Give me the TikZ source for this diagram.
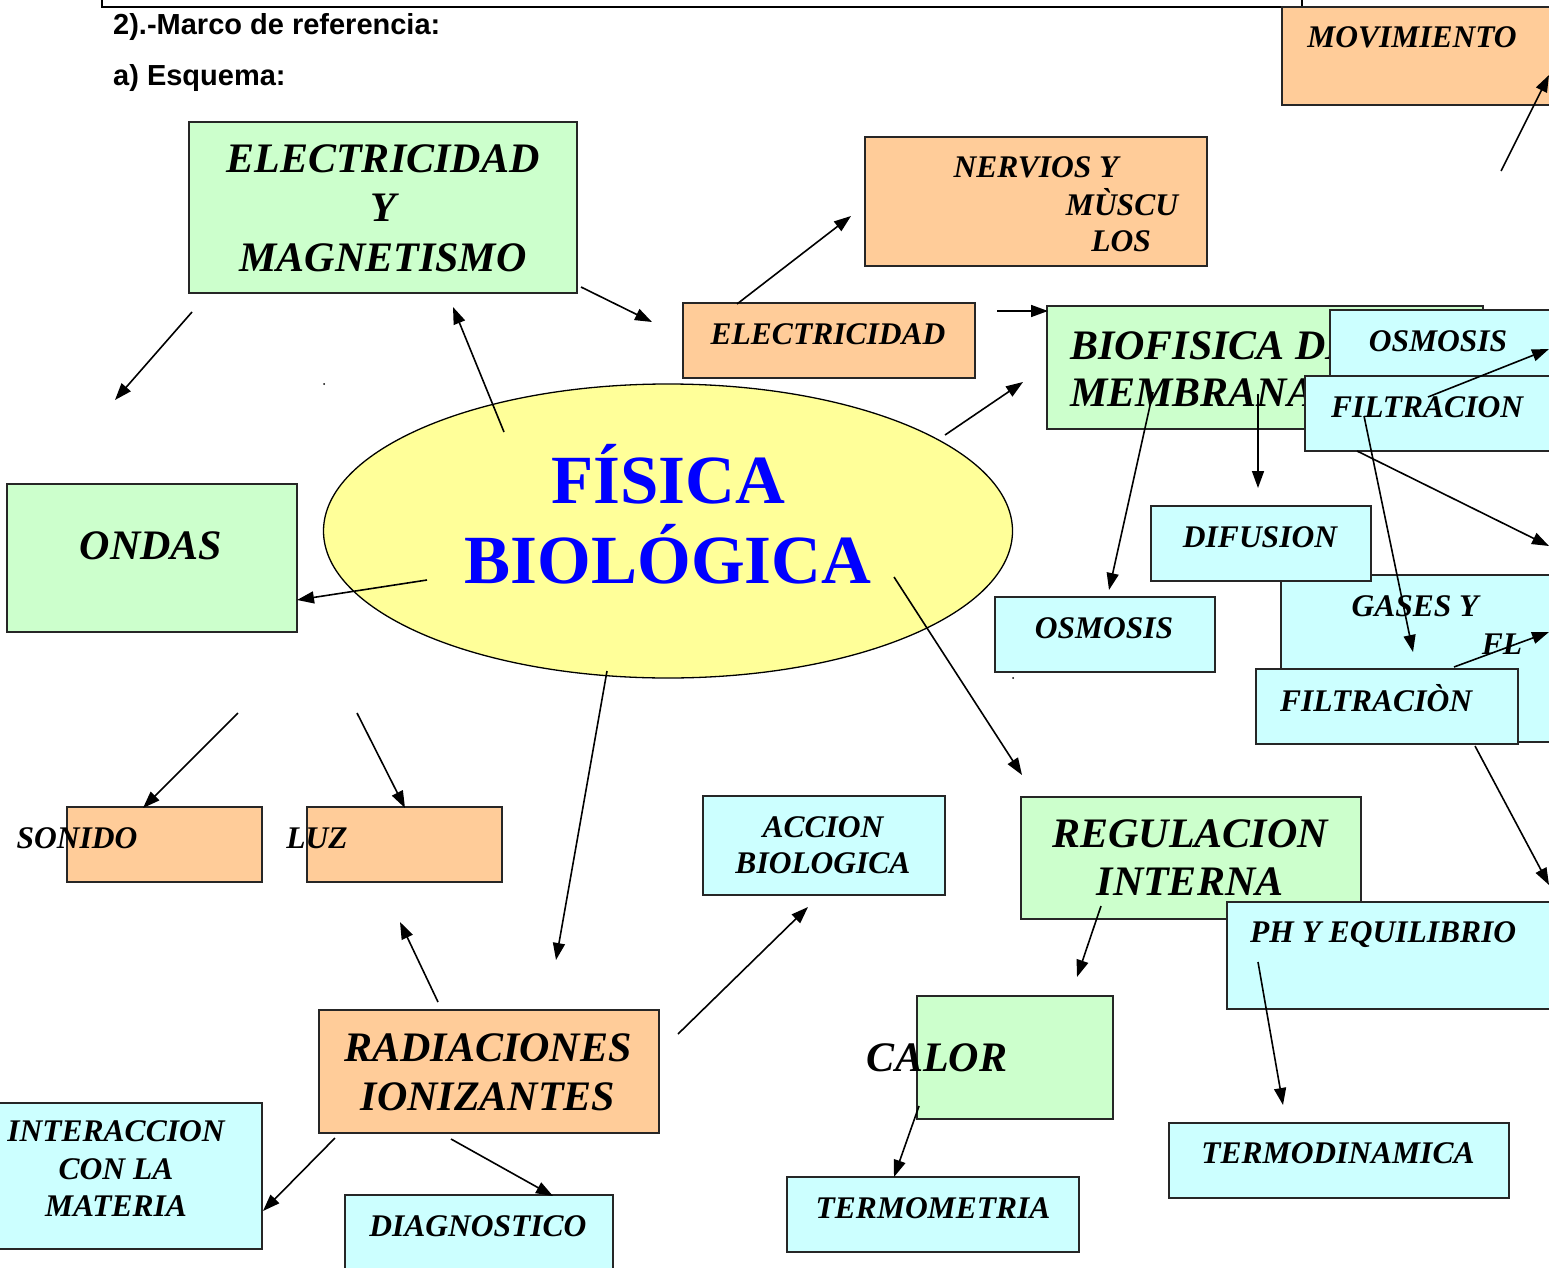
\documentclass[tikz,border=0pt]{standalone}
\usepackage{fontspec}
\setmainfont{Liberation Serif}
\newfontfamily\hdrfont{Liberation Sans}
\usetikzlibrary{shapes.geometric,arrows.meta}
\definecolor{grn}{HTML}{CCFFCC}
\definecolor{org}{HTML}{FFCC99}
\definecolor{cyn}{HTML}{CCFFFF}
\definecolor{yel}{HTML}{FFFF99}
\definecolor{fblue}{HTML}{0000FF}
\begin{document}
\begin{tikzpicture}[x=1pt,y=-1pt,
  bx/.style={draw=black!85, line width=1.2pt, anchor=north west, inner sep=0pt, outer sep=0pt},
  big/.style={font=\bfseries\itshape\fontsize{42}{49}\selectfont, inner sep=0pt, align=center},
  sml/.style={font=\bfseries\itshape\fontsize{31.5}{37}\selectfont, inner sep=0pt, align=center},
  hdr/.style={font=\hdrfont\bfseries\fontsize{29}{34}\selectfont, inner sep=0pt, anchor=base west},
  fis/.style={font=\bfseries\fontsize{69}{80}\selectfont, text=fblue, inner sep=0pt, anchor=base},
  arr/.style={line width=1.6pt, -{Triangle[length=17pt,width=12pt]}},
  dotmark/.style={circle, fill=black, inner sep=0pt, minimum size=2pt}
]
\useasboundingbox (0,0) rectangle (1549,1268);
\fill[white] (0,0) rectangle (1549,1268);

% top frame
\coordinate (fr1) at (102,-5);
\coordinate (fr2) at (102,7);
\coordinate (fr3) at (1302,7);
\coordinate (fr4) at (1302,-5);
\draw[line width=1.2pt] (fr1) -- (fr2) -- (fr3) -- (fr4);

% MOVIMIENTO
\node[bx, fill=org, minimum width=278pt, minimum height=98pt] (mov) at (1282,7) {};
\node[sml] (movt) at (1412,37) {MOVIMIENTO};

% headers
\node[hdr] (h1) at (113,35) {2).-Marco de referencia:};
\node[hdr] (h2) at (113,86) {a) Esquema:};

% upper boxes
\node[bx, fill=grn, minimum width=388pt, minimum height=171pt] (eym) at (189,122) {};
\node[big, font=\bfseries\itshape\fontsize{42}{49.5}\selectfont] (eymt) at (383,208) {ELECTRICIDAD\\Y\\MAGNETISMO};

\node[bx, fill=org, minimum width=342pt, minimum height=129pt] (ner) at (865,137) {};
\node[sml] (nert1) at (1036,167) {NERVIOS Y};
\node[sml] (nert2) at (1122,202) {MÙSCU};
\node[sml] (nert3) at (1121,241) {LOS};

\node[bx, fill=org, minimum width=292pt, minimum height=75pt] (ele) at (683,303) {};
\node[sml] (elet) at (828,334) {ELECTRICIDAD};

\node[bx, fill=grn, minimum width=436pt, minimum height=123pt] (bio) at (1047,306) {};
\node[big, align=left, anchor=west, font=\bfseries\itshape\fontsize{42}{47}\selectfont] (biot) at (1070,369) {BIOFISICA DE\\MEMBRANA};

\node[bx, fill=cyn, minimum width=230pt, minimum height=85pt] (osm1) at (1330,310) {};
\node[sml] (osm1t) at (1438,341) {OSMOSIS};

\node[bx, fill=cyn, minimum width=255pt, minimum height=75pt] (fil1) at (1305,376) {};
\node[sml] (fil1t) at (1427,407) {FILTRACION};

% central ellipse
\node[ellipse, draw=black, line width=1.3pt, fill=yel, minimum width=689pt, minimum height=294pt, inner sep=0pt] (fisica) at (668,531) {};
\node[fis] (fist1) at (668,503) {FÍSICA};
\node[fis] (fist2) at (668,583) {BIOLÓGICA};
\node[dotmark] (d1) at (324,384) {};
\node[dotmark] (d2) at (1013,678) {};

% left side
\node[bx, fill=grn, minimum width=290pt, minimum height=148pt] (ond) at (7,484) {};
\node[big] (ondt) at (151,546) {ONDAS};

\node[bx, fill=org, minimum width=195pt, minimum height=75pt] (son) at (67,807) {};
\node[sml] (sont) at (77,838) {SONIDO};
\node[bx, fill=org, minimum width=195pt, minimum height=75pt] (luz) at (307,807) {};
\node[sml] (luzt) at (317,838) {LUZ};

% right middle
\node[bx, fill=cyn, minimum width=279pt, minimum height=167pt] (gas) at (1281,575) {};
\node[sml] (gast1) at (1415,606) {GASES Y};
\node[sml] (gast2) at (1502,644) {FL};

\node[bx, fill=cyn, minimum width=220pt, minimum height=75pt] (dif) at (1151,506) {};
\node[sml] (dift) at (1260,537) {DIFUSION};

\node[bx, fill=cyn, minimum width=220pt, minimum height=75pt] (osm2) at (995,597) {};
\node[sml] (osm2t) at (1104,628) {OSMOSIS};

\node[bx, fill=cyn, minimum width=262pt, minimum height=75pt] (fil2) at (1256,669) {};
\node[sml] (fil2t) at (1376,698) {FILTRACIÒN};

\node[bx, fill=grn, minimum width=340pt, minimum height=122pt] (reg) at (1021,797) {};
\node[big, font=\bfseries\itshape\fontsize{42}{48}\selectfont] (regt) at (1190,858) {REGULACION\\INTERNA};

\node[bx, fill=cyn, minimum width=333pt, minimum height=107pt] (ph) at (1227,902) {};
\node[sml, anchor=base west] (pht) at (1250,942) {PH Y EQUILIBRIO};

% bottom
\node[bx, fill=cyn, minimum width=242pt, minimum height=99pt] (acc) at (703,796) {};
\node[sml, font=\bfseries\itshape\fontsize{31.5}{36}\selectfont] (acct) at (823,845) {ACCION\\BIOLOGICA};

\node[bx, fill=org, minimum width=340pt, minimum height=123pt] (rad) at (319,1010) {};
\node[big] (radt) at (488,1072) {RADIACIONES\\IONIZANTES};

\node[bx, fill=cyn, minimum width=267pt, minimum height=146pt] (int) at (-5,1103) {};
\node[sml, font=\bfseries\itshape\fontsize{31.5}{37.5}\selectfont] (intt) at (116,1169) {INTERACCION\\CON LA\\MATERIA};

\node[bx, fill=cyn, minimum width=268pt, minimum height=85pt] (dia) at (345,1195) {};
\node[sml] (diat) at (478,1226) {DIAGNOSTICO};

\node[bx, fill=grn, minimum width=196pt, minimum height=123pt] (cal) at (917,996) {};
\node[big] (calt) at (937,1058) {CALOR};

\node[bx, fill=cyn, minimum width=292pt, minimum height=75pt] (tmm) at (787,1177) {};
\node[sml] (tmmt) at (933,1208) {TERMOMETRIA};

\node[bx, fill=cyn, minimum width=340pt, minimum height=75pt] (tmd) at (1169,1123) {};
\node[sml] (tmdt) at (1338,1153) {TERMODINAMICA};

% arrow end points
\coordinate (a1s) at (504,432);   \coordinate (a1e) at (453,307);
\coordinate (a2s) at (192,312);   \coordinate (a2e) at (115,400);
\coordinate (a3s) at (581,287);   \coordinate (a3e) at (652,322);
\coordinate (a4s) at (737,304);   \coordinate (a4e) at (851,216);
\coordinate (a5s) at (997,311);   \coordinate (a5e) at (1048,311);
\coordinate (a6s) at (945,435);   \coordinate (a6e) at (1023,382);
\coordinate (a7s) at (1153,392);  \coordinate (a7e) at (1109,590);
\coordinate (a8s) at (1258,394);  \coordinate (a8e) at (1258,488);
\coordinate (a9s) at (1428,397);  \coordinate (a9e) at (1549,349);
\coordinate (a10s) at (1364,416); \coordinate (a10e) at (1413,652);
\coordinate (a11s) at (1357,451); \coordinate (a11e) at (1549,546);
\coordinate (a12s) at (1454,667); \coordinate (a12e) at (1549,632);
\coordinate (a13s) at (1475,746); \coordinate (a13e) at (1549,885);
\coordinate (a14s) at (427,580);  \coordinate (a14e) at (297,600);
\coordinate (a15s) at (238,713);  \coordinate (a15e) at (143,808);
\coordinate (a16s) at (357,713);  \coordinate (a16e) at (405,808);
\coordinate (a17s) at (607,671);  \coordinate (a17e) at (556,960);
\coordinate (a18s) at (894,577);  \coordinate (a18e) at (1022,775);
\coordinate (a19s) at (438,1002); \coordinate (a19e) at (400,922);
\coordinate (a20s) at (678,1034); \coordinate (a20e) at (808,907);
\coordinate (a21s) at (335,1138); \coordinate (a21e) at (263,1211);
\coordinate (a22s) at (451,1139); \coordinate (a22e) at (553,1196);
\coordinate (a23s) at (1101,906); \coordinate (a23e) at (1077,977);
\coordinate (a24s) at (1258,962); \coordinate (a24e) at (1283,1105);
\coordinate (a25s) at (919,1106); \coordinate (a25e) at (894,1177);
\coordinate (a26s) at (1501,171); \coordinate (a26e) at (1549,75);

\foreach \i in {1,...,26} {\draw[arr] (a\i s) -- (a\i e);}
\end{tikzpicture}
\end{document}
